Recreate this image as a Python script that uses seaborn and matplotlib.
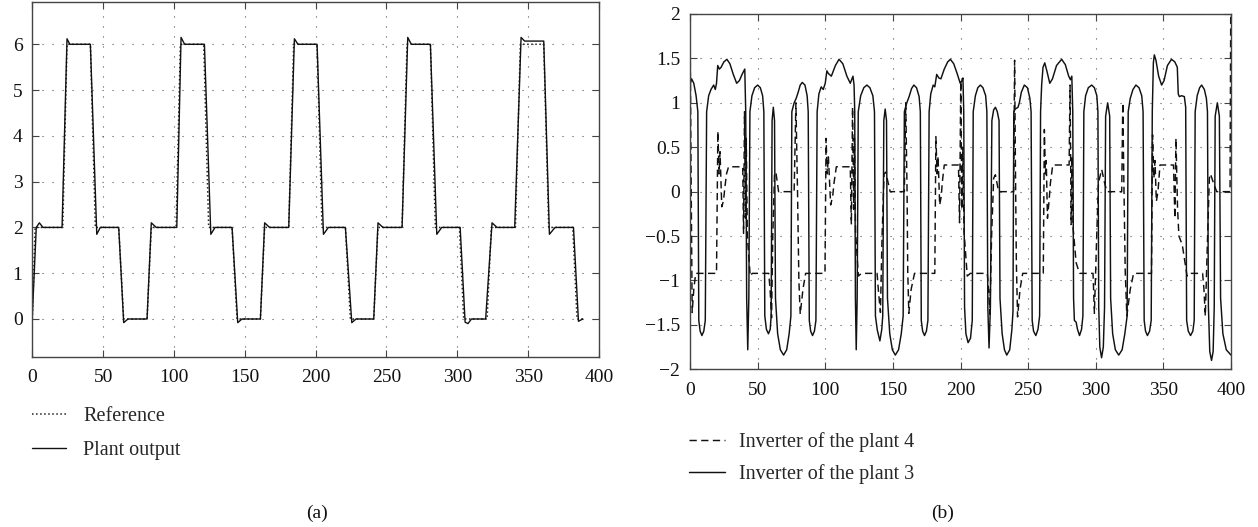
# -*- coding: utf-8 -*-
# Two panels: (a) reference tracking, (b) inverter signals of plants 3 and 4

import pandas as pd
import matplotlib
matplotlib.use('Agg')
import matplotlib.pyplot as plt
import seaborn as sns

sns.set_theme(style='white')
plt.rcParams['font.family'] = ['Liberation Serif', 'DejaVu Serif']

#%% DATA
# panel (a)
t_out = [0, 2.8, 5, 7.5, 21, 24.5, 26.5, 41, 45.5, 48, 61, 64.5, 67.5, 81, 84, 87.5,
         102, 105, 107.5, 121.5, 126, 129, 141, 145, 148, 161, 164, 167.5,
         181, 185, 187.5, 201, 205.5, 209, 221, 225.5, 228.5, 241, 244, 247.5,
         261, 265, 267.5, 281, 285.5, 289, 302, 305.5, 307.5, 310, 320, 324.5, 328,
         340.5, 345, 347.5, 361, 365, 369, 382, 385.5, 388.5]
y_out = [0.05, 2.0, 2.1, 2.0, 2.0, 6.12, 6.0, 6.0, 1.85, 2.0, 2.0, -0.08, 0.0, 0.0, 2.1, 2.0,
         2.0, 6.15, 6.0, 6.0, 1.85, 2.0, 2.0, -0.08, 0.0, 0.0, 2.1, 2.0,
         2.0, 6.12, 6.0, 6.0, 1.85, 2.0, 2.0, -0.08, 0.0, 0.0, 2.1, 2.0,
         2.0, 6.15, 6.0, 6.0, 1.85, 2.0, 2.0, -0.07, -0.1, 0.0, 0.0, 2.1, 2.0,
         2.0, 6.15, 6.07, 6.07, 1.85, 2.0, 2.0, -0.05, 0.0]

t_ref = [0, 2, 21.5, 24.5, 41, 44.5, 61, 64.5, 81, 84, 101.5, 104.5, 121, 124.5, 141, 144.5,
         161, 164, 181, 184.5, 201, 204.5, 221, 224.5, 241, 244, 261, 264.5, 281, 284.5,
         301.5, 304.5, 321, 324, 341, 344.5, 361, 364.5, 381.5, 384.5, 390]
y_ref = [0, 2, 2, 6, 6, 2, 2, 0, 0, 2, 2, 6, 6, 2, 2, 0,
         0, 2, 2, 6, 6, 2, 2, 0, 0, 2, 2, 6, 6, 2,
         2, 0, 0, 2, 2, 6, 6, 2, 2, 0, 0]

# panel (b) - inverter of the plant 3 (solid)
t_p3 = [0, 1.2, 2.8, 4.5, 5.8, 6.5, 7.5, 8.8, 10.2, 11.3, 12.3, 13.8, 15.5, 17.5, 18.7, 19.6,
        20.5, 21.7, 23, 25, 27.3, 29.5, 32, 34.5, 36.5, 38.5, 40.5, 41.2, 41.9, 42.7, 43.5,
        44.3, 45.8, 47.8, 50, 52, 53.7, 54.6, 55.3, 56.5, 58, 59.3, 60, 60.7, 61.6, 62.5,
        63.2, 64.8, 66.8, 69.2, 71.5, 73.3, 74.6, 75.3, 77, 78.5, 80, 81.5, 83, 85, 86.6,
        87.4, 88.2, 89.2, 90.6, 92, 93.1,
        94, 95.3, 97, 98.5, 100, 101.2, 102.3, 104.5, 107.5, 110.2, 113, 116, 118.5, 120.5,
        121.3, 121.8, 122.3, 122.9, 123.6, 124.4, 126.2, 128.5, 130.8, 133, 135.2, 136.4,
        137.1, 138.5, 140.4, 141.8, 142.5, 143.3, 144.3, 145.3, 146, 147.7, 149.6, 151.8,
        154.2, 156.2, 157.6, 158.5, 160.3, 162, 163.8, 165.5, 167.5, 169.4, 170.3, 171, 172,
        173.4, 174.8, 175.9,
        176.8, 178, 179.8, 181, 182.4, 184, 185.5, 188, 190.5, 192.5, 195, 197.5, 199.8, 201,
        201.8, 202.4, 203, 204, 205.6, 207.4, 208.7, 209.4, 211, 212.8, 214.7, 216.6, 218.6,
        219.5, 220.2, 221.1, 222.1, 223.2, 224.5, 225.8, 227.2, 228.5, 229.2, 230.8, 232.5,
        234.2, 236.4, 238, 238.8,
        239.4, 240.5, 242.5, 243.5, 245, 247.2, 249.5, 251.3, 252.2, 253, 254, 255.7, 257.3,
        258.5,
        259.2, 260, 261, 262.3, 264, 266, 268, 271, 274.8, 277.5, 280, 281.3, 282.3, 283,
        283.6, 284.2, 285.5, 286.5, 288, 289.5, 290.5, 291.2, 292.5, 294.5, 297, 299, 300.8,
        301.6, 302.2, 303, 304.3, 305.6, 306.5, 307.3, 308.8, 310.3, 311, 312.5, 314.5, 317,
        319.5, 321.5, 323.2, 324, 325.5, 327.5, 329.7, 332, 334, 335, 335.8, 336.8, 338.2,
        339.8, 341,
        341.8, 342.6, 343.3, 344.5, 346.5, 348.7, 350.5, 353, 356, 358.5, 360.3, 361, 361.8,
        363.5, 365.5, 366.5, 367.2, 368.4, 370.1, 371.8, 372.8, 373.5, 375, 376.8, 378.3,
        380.3, 381.8, 382.6, 383.3, 384.3, 385.6, 386.8, 387.6, 388.3, 389.9, 391.4, 392.3,
        394, 396.5, 400]
y_p3 = [1.2, 1.27, 1.22, 1.08, 0.9, -1.45, -1.57, -1.62, -1.57, -1.45, 0.9, 1.08, 1.15, 1.2, 1.15, 1.22,
        1.42, 1.38, 1.4, 1.46, 1.49, 1.44, 1.32, 1.22, 1.25, 1.32, 1.38, 0.9, -1.2, -1.78, -1.2,
        0.9, 1.08, 1.17, 1.2, 1.17, 1.08, 0.9, -1.4, -1.55, -1.6, -1.55, -1.4, 0.8, 0.95, 0.8,
        -1.2, -1.6, -1.78, -1.84, -1.78, -1.6, -1.4, 0.9, 1.0, 1.05, 1.12, 1.2, 1.23, 1.2, 1.08,
        0.9, -1.45, -1.57, -1.62, -1.57, -1.45,
        0.9, 1.1, 1.18, 1.15, 1.22, 1.36, 1.33, 1.3, 1.42, 1.49, 1.44, 1.3, 1.22, 1.3,
        1.2, 0.9, -1.2, -1.78, -1.2, 0.9, 1.08, 1.17, 1.2, 1.17, 1.08, 0.9,
        -1.4, -1.56, -1.68, -1.55, -1.4, 0.8, 0.93, 0.8, -1.2, -1.6, -1.78, -1.84,
        -1.78, -1.6, -1.4, 0.9, 1.0, 1.07, 1.16, 1.2, 1.17, 1.07, 0.9, -1.45, -1.57,
        -1.62, -1.57, -1.45,
        0.9, 1.1, 1.2, 1.18, 1.32, 1.28, 1.27, 1.38, 1.46, 1.49, 1.44, 1.33, 1.22, 1.25,
        1.28, 0.9, -1.3, -1.6, -1.7, -1.65, -1.45, 0.9, 1.08, 1.17, 1.2, 1.17, 1.08,
        0.9, -1.3, -1.76, -1.3, 0.8, 0.92, 0.95, 0.9, 0.8, -1.2, -1.6, -1.78,
        -1.84, -1.78, -1.55, -1.35,
        0.9, 0.93, 0.95, 1.0, 1.12, 1.2, 1.17, 1.05, 0.9, -1.45, -1.57, -1.62, -1.55,
        -1.4,
        0.9, 1.2, 1.4, 1.45, 1.35, 1.22, 1.27, 1.42, 1.49, 1.43, 1.3, 1.26, 1.3, 0.9,
        -1.2, -1.45, -1.47, -1.55, -1.62, -1.55, -1.4, 0.9, 1.08, 1.17, 1.2, 1.17, 1.08,
        0.9, -1.3, -1.75, -1.87, -1.75, -1.3, 0.85, 1.0, 0.85, -1.2, -1.6, -1.78, -1.84,
        -1.78, -1.6, -1.4, 0.9, 1.05, 1.15, 1.2, 1.17, 1.08, 0.9, -1.45, -1.57, -1.62,
        -1.57, -1.45,
        0.9, 1.45, 1.54, 1.48, 1.3, 1.2, 1.25, 1.42, 1.49, 1.46, 1.4, 1.1, 1.07,
        1.08, 1.07, 0.95, -1.45, -1.57, -1.62, -1.57, -1.45, 0.9, 1.08, 1.17, 1.2,
        1.15, 1.05, 0.9, -1.3, -1.8, -1.9, -1.8, -1.3, 0.85, 1.0, 0.85, -1.2,
        -1.6, -1.78, -1.84]

# panel (b) - inverter of the plant 4 (dashed)
t_p4 = [0, 0.7, 1.6, 2.8, 4.2, 19.6, 20.6, 21.5, 22.2, 23.5, 24.8, 25.8, 27, 28.5, 39, 39.6,
        40.3, 41, 41.6, 42.4, 44.5, 46, 58.2, 59.2, 60.3, 61.2, 62.5, 63.5, 65.5, 77, 78.3,
        79.5, 80.5, 81.5, 83.5, 85.5,
        99.8, 100.6, 101.5, 102.3, 104, 105.5, 106.5, 108.2, 118.5, 119.3, 120.2, 121, 121.6,
        122.4, 124.5, 126.7, 138.3, 139.5, 140.8, 142, 143.5, 144.7, 148, 158.5, 159.5, 160.5,
        161, 161.8, 163.5, 166,
        181, 181.8, 182.7, 183.4, 184.6, 185.8, 186.5, 188, 198.5, 199.3, 200.2, 201, 201.7,
        202.6, 205, 207.3, 219.8, 220.8, 221.7, 223, 224.5, 225.8, 228.2, 239.3, 240, 240.6,
        241.3, 242.2, 244, 246,
        261.2, 262, 262.8, 263.4, 264.3, 265.5, 266.5, 268.2, 280.3, 281, 281.8, 282.5, 283.2,
        285.5, 288, 298, 299, 300.5, 302, 304.4, 306.5, 308.3, 319.2, 320, 320.8, 321.8, 323,
        325.5, 328,
        341.2, 342, 343, 343.8, 344.8, 346, 347.5, 357.5, 358.5, 359.3, 360.5, 361.5, 364, 366,
        367.5, 369, 379, 380, 381, 382.5, 384, 384.8, 387, 389.4, 399.3, 399.8]
y_p4 = [2.0, 0.4, -1.36, -1.1, -0.92, -0.92, 0.68, 0.2, 0.45, -0.17, -0.1, 0.05, 0.2, 0.28, 0.28, -0.47,
        0.9, -0.3, 0.6, -0.5, -0.95, -0.92, -0.92, -1.1, -1.42, -0.5, 0.2, 0.22, 0.0, 0.0, 1.0,
        0.0, -1.0, -1.38, -1.1, -0.92,
        -0.92, 0.6, 0.2, 0.4, -0.15, -0.05, 0.1, 0.28, 0.28, -0.37, 0.95, -0.2, 0.6,
        -0.45, -0.95, -0.92, -0.92, -1.15, -1.36, -0.5, 0.2, 0.22, 0.0, 0.0, 1.0, 0.0,
        -0.9, -1.37, -1.1, -0.92,
        -0.92, 0.62, 0.2, 0.4, -0.15, -0.05, 0.1, 0.3, 0.3, -0.35, 1.25, -0.2, 0.5,
        -0.45, -0.95, -0.92, -0.92, -1.1, -1.38, -0.5, 0.15, 0.19, 0.0, 0.0, 1.48, 0.3,
        -0.8, -1.41, -1.1, -0.92,
        -0.92, 0.7, 0.2, 0.35, -0.3, -0.1, 0.1, 0.3, 0.3, 1.2, -0.37, 0.4, -0.4,
        -0.8, -0.92, -0.92, -1.37, -0.6, 0.1, 0.25, 0.1, 0.0, 0.0, 1.0, 0.1, -0.9, -1.4,
        -1.1, -0.92,
        -0.92, 0.64, 0.15, 0.35, -0.11, 0.0, 0.3, 0.3, -0.3, 0.6, -0.2, -0.5, -0.6, -0.8,
        -0.95, -0.92, -0.92, -1.1, -1.4, -0.6, 0.15, 0.2, 0.1, 0.0, 0.0, 2.0]

lbl_a = ['Reference', 'Plant output']
lbl_b = ['Inverter of the plant 4', 'Inverter of the plant 3']

xticks = [0, 50, 100, 150, 200, 250, 300, 350, 400]
yticks_a = [0, 1, 2, 3, 4, 5, 6]
yticks_b = [-2, -1.5, -1, -0.5, 0, 0.5, 1, 1.5, 2]
ylabels_b = ['\u22122', '\u22121.5', '\u22121', '\u22120.5', '0', '0.5', '1', '1.5', '2']

df_out = pd.DataFrame({'t': t_out, 'y': y_out})
df_ref = pd.DataFrame({'t': t_ref, 'y': y_ref})
df_p3 = pd.DataFrame({'t': t_p3, 'y': y_p3})
df_p4 = pd.DataFrame({'t': t_p4, 'y': y_p4})

#%% FIGURE
W, H = 1258, 527
fig = plt.figure(figsize=(W / 100, H / 100), dpi=100)
fig.patch.set_facecolor('white')
ax1 = fig.add_axes([32.3 / W, 1 - 357 / H, (599 - 32.3) / W, (357 - 1.7) / H])
ax2 = fig.add_axes([690 / W, 1 - 369.3 / H, 541 / W, (369.3 - 14) / H])

grid_ls = (0, (1, 8))

def style_axes(ax):
    ax.set_facecolor('white')
    ax.grid(True, color='#555555', linestyle=grid_ls, linewidth=0.8)
    for s in ax.spines.values():
        s.set_visible(True)
        s.set_color('#444444')
        s.set_linewidth(1.0)
    ax.tick_params(axis='both', direction='in', length=5, width=0.8, colors='#444444',
                   top=True, right=True, bottom=True, left=True, labelsize=14,
                   labelcolor='#111111')
    ax.tick_params(axis='x', pad=9)
    ax.tick_params(axis='y', pad=7)
    ax.set_xlabel('')
    ax.set_ylabel('')

# (a)
sns.lineplot(data=df_ref, x='t', y='y', ax=ax1, estimator=None, sort=False,
             color='#222222', linestyle=':', linewidth=1.1, label=lbl_a[0])
sns.lineplot(data=df_out, x='t', y='y', ax=ax1, estimator=None, sort=False,
             color='#111111', linestyle='-', linewidth=1.0, label=lbl_a[1])
ax1.set_xlim(0, 400)
ax1.set_ylim(-0.83, 6.93)
ax1.set_xticks(xticks)
ax1.set_yticks(yticks_a)
style_axes(ax1)

# (b)
sns.lineplot(data=df_p4, x='t', y='y', ax=ax2, estimator=None, sort=False,
             color='#111111', linestyle=(0, (5, 3)), linewidth=1.05, label=lbl_b[0])
sns.lineplot(data=df_p3, x='t', y='y', ax=ax2, estimator=None, sort=False,
             color='#111111', linestyle='-', linewidth=1.05, label=lbl_b[1])
ax2.set_xlim(0, 400)
ax2.set_ylim(-2, 2)
ax2.set_xticks(xticks)
ax2.set_yticks(yticks_b)
ax2.set_yticklabels(ylabels_b)
style_axes(ax2)

# legends under the panels
h, l = ax1.get_legend_handles_labels()
ax1.legend(h, l, loc='upper left', bbox_to_anchor=(31.8 / W, 1 - 407 / H),
           bbox_transform=fig.transFigure, frameon=False, fontsize=14.5,
           handlelength=1.7, handletextpad=0.85, labelspacing=0.72,
           borderpad=0, borderaxespad=0)
h, l = ax2.get_legend_handles_labels()
ax2.legend(h, l, loc='upper left', bbox_to_anchor=(689 / W, 1 - 432 / H),
           bbox_transform=fig.transFigure, frameon=False, fontsize=14.5,
           handlelength=1.8, handletextpad=0.7, labelspacing=0.62,
           borderpad=0, borderaxespad=0)

fig.text(317 / W, 1 - 513 / H, '(a)', ha='center', va='center', fontsize=14, color='#111111')
fig.text(943 / W, 1 - 513 / H, '(b)', ha='center', va='center', fontsize=14, color='#111111')

plt.savefig('out.png', dpi=100)
